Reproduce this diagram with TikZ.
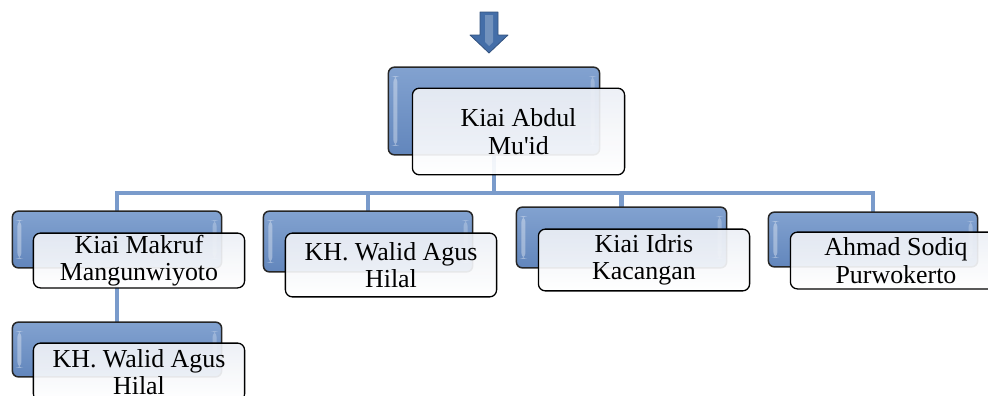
\documentclass[tikz,border=0pt]{standalone}
\usepackage{fontspec}
\setmainfont{Liberation Serif}
\usetikzlibrary{backgrounds}
\definecolor{linkblue}{RGB}{122,155,203}
\definecolor{backtop}{RGB}{130,162,208}
\definecolor{backbot}{RGB}{98,134,188}
\definecolor{fronttop}{RGB}{236,239,245}
\definecolor{arrowblue}{RGB}{68,110,168}
\begin{document}
\begin{tikzpicture}[x=1bp,y=-1bp,line join=round,
  backbox/.style={draw=black!85,line width=1.5bp,rounded corners=6bp,top color=backtop,bottom color=backbot,inner sep=0pt,
    path picture={\fill[white,opacity=0.35] ([shift={(5,9)}]path picture bounding box.north west) rectangle ([shift={(9,-9)}]path picture bounding box.south west);
      \fill[white,opacity=0.25] ([shift={(-9,9)}]path picture bounding box.north east) rectangle ([shift={(-5,-9)}]path picture bounding box.south east);}},
  frontbox/.style={draw=black,line width=1.3bp,rounded corners=7bp,top color=fronttop,bottom color=white,fill opacity=0.92,text opacity=1,inner sep=0pt,align=center,font=\fontsize{26}{27.5}\selectfont},
  link/.style={draw=linkblue,line width=4.5bp,line cap=rect},
]
\useasboundingbox (0,0) rectangle (988,395);
%%
\draw [draw=arrowblue!75!black,fill=arrowblue,line width=0.8bp] (480,12) -- (498,12) -- (498,35) -- (508,35) -- (489,53) -- (470,35) -- (480,35) -- cycle;
\fill [white,opacity=0.25] (485,15) -- (493,15) -- (493,42) -- (489,46) -- (485,42) -- cycle;
%%
\node (back_0) at (494,111) [backbox,minimum width=212,minimum height=88] {};
\node (node_0) at (518.5,131.5) [frontbox,minimum width=213,minimum height=87] {Kiai Abdul\\Mu\textquotesingle id};
\node (back_1) at (117,239.5) [backbox,minimum width=210,minimum height=57] {};
\node (node_1) at (139,260.5) [frontbox,minimum width=212,minimum height=55] {Kiai Makruf\\Mangunwiyoto};
\node (back_2) at (368,241.5) [backbox,minimum width=210,minimum height=61] {};
\node (node_2) at (391,265) [frontbox,minimum width=212,minimum height=64] {KH. Walid Agus\\Hilal};
\node (back_3) at (621.5,237.5) [backbox,minimum width=211,minimum height=61] {};
\node (node_3) at (644,260) [frontbox,minimum width=212,minimum height=62] {Kiai Idris\\Kacangan};
\node (back_4) at (873,239.5) [backbox,minimum width=210,minimum height=55] {};
\node (node_4) at (896,260.5) [frontbox,minimum width=212,minimum height=57] {Ahmad Sodiq\\Purwokerto};
\node (back_5) at (117,349.5) [backbox,minimum width=210,minimum height=55] {};
\node (node_5) at (139,372) [frontbox,minimum width=212,minimum height=58] {KH. Walid Agus\\Hilal};
\coordinate (bus) at (494,193);
%
\begin{scope}[on background layer]
  \draw [link] (back_0.south) -- (bus) -| (back_1.north);
  \draw [link] (bus) -| (back_2.north);
  \draw [link] (bus) -| (back_3.north);
  \draw [link] (bus) -| (back_4.north);
  \draw [link] (back_1.south) -- (back_5.north);
\end{scope}
%
\end{tikzpicture}
\end{document}
